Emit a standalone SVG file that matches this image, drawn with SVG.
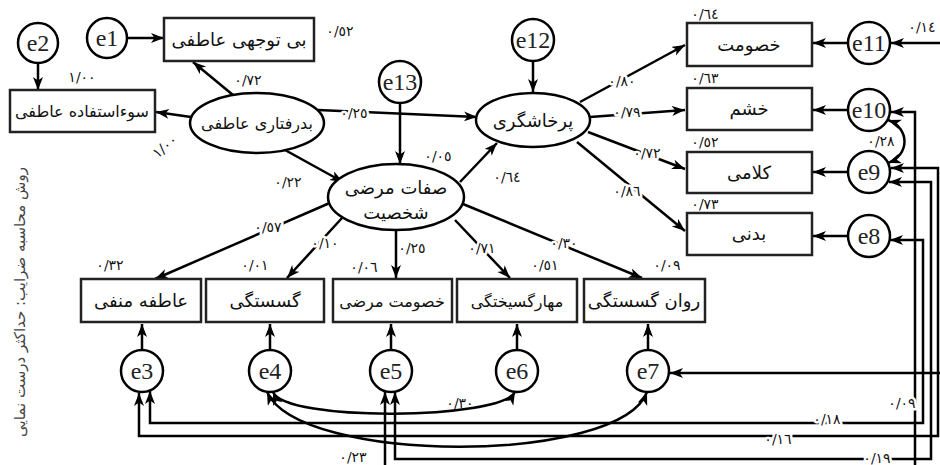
<svg xmlns="http://www.w3.org/2000/svg" width="940" height="465" viewBox="0 0 940 465">
<defs>
<marker id="a" markerUnits="userSpaceOnUse" markerWidth="14" markerHeight="12" refX="13" refY="5" orient="auto-start-reverse">
<path d="M0,0 L13,5 L0,10 L3.5,5 z" fill="#000"/>
</marker>
<style>
.bx{fill:#fff;stroke:#222;stroke-width:2.5}
.el{fill:#fff;stroke:#000;stroke-width:2.5}
.c{fill:#fff;stroke:#000;stroke-width:2.5}
.fa{font-family:"DejaVu Sans",sans-serif;font-size:18px;fill:#111;text-anchor:middle}
.sm{font-size:16px}
.ev{font-family:"Liberation Serif","Times New Roman",serif;font-size:24px;fill:#222;text-anchor:middle}
.n{font-family:"DejaVu Sans",sans-serif;font-size:14px;fill:#111;text-anchor:middle}
.h{stroke:#fff;stroke-width:5;paint-order:stroke;stroke-linejoin:round}
.ln{fill:none;stroke:#000;stroke-width:2.5}
.ar{marker-end:url(#a)}
.ab{marker-start:url(#a);marker-end:url(#a)}
</style>
</defs>

<g id="connectors" class="ln">
<line class="ar" x1="127" y1="38" x2="164" y2="38"/>
<line class="ar" x1="38" y1="63" x2="38" y2="90"/>
<line class="ar" x1="233" y1="95" x2="193" y2="62"/>
<line class="ar" x1="191" y1="117" x2="156" y2="112"/>
<line class="ar" x1="318" y1="110" x2="477" y2="117"/>
<line class="ar" x1="285" y1="150" x2="343" y2="182"/>
<line class="ar" x1="400" y1="103" x2="400" y2="164"/>
<line class="ar" x1="533" y1="61" x2="533" y2="92"/>
<line class="ar" x1="460" y1="182" x2="497" y2="143"/>
<line class="ar" x1="580" y1="102" x2="685" y2="45"/>
<line class="ar" x1="590" y1="117" x2="685" y2="110"/>
<line class="ar" x1="588" y1="132" x2="685" y2="169"/>
<line class="ar" x1="577" y1="142" x2="685" y2="231"/>
<line class="ar" x1="848" y1="43" x2="813" y2="43"/>
<line class="ar" x1="848" y1="110" x2="813" y2="110"/>
<line class="ar" x1="848" y1="172" x2="813" y2="172"/>
<line class="ar" x1="848" y1="236" x2="813" y2="236"/>
<line class="ar" x1="332" y1="202" x2="155" y2="279"/>
<line class="ar" x1="342" y1="218" x2="287" y2="278"/>
<line class="ar" x1="396" y1="230" x2="396" y2="278"/>
<line class="ar" x1="455" y1="220" x2="510" y2="278"/>
<line class="ar" x1="463" y1="204" x2="642" y2="278"/>
<line class="ar" x1="142" y1="350" x2="142" y2="324"/>
<line class="ar" x1="270" y1="350" x2="270" y2="324"/>
<line class="ar" x1="391" y1="350" x2="391" y2="324"/>
<line class="ar" x1="517" y1="350" x2="517" y2="324"/>
<line class="ar" x1="648" y1="350" x2="648" y2="324"/>
<path class="ar" d="M941,43 L891,43"/>
<path class="ar" d="M941,373 L670,373"/>
<path class="ar" d="M915,467 L915,112 L891,112"/>
<path class="ab" d="M139,393 L139,436 L938,436 L938,168 L891,168"/>
<path class="ab" d="M150,391 L150,423 L923,423 L923,240 L890,240"/>
<path class="ab" d="M395,392 L395,459 L931,459 L931,182 L889,182"/>
<path class="ar" d="M385,467 L385,392"/>
<path class="ab" d="M888,120 C910,128 910,155 888,163"/>
<path class="ab" d="M273,392 C285,422 500,420 515,392"/>
<path class="ab" d="M267,392 C300,465 620,465 647,392"/>
</g>

<g id="box-bi-tavajohi"><rect class="bx" x="164" y="18" width="150" height="43"/><text class="fa" x="239" y="46" direction="rtl">بی توجهی عاطفی</text></g>
<g id="box-sooestefade"><rect class="bx" x="10" y="90" width="145" height="42"/><text class="fa sm" x="82" y="117" direction="rtl">سوءاستفاده عاطفی</text></g>
<g id="e1"><circle class="c" cx="107" cy="38" r="20"/><text class="ev" x="107" y="46">e1</text></g>
<g id="e2"><circle class="c" cx="38" cy="43" r="20"/><text class="ev" x="38" y="51">e2</text></g>
<g id="badraftari"><ellipse class="el" cx="257" cy="123" rx="67" ry="30"/><text class="fa sm" x="257" y="129" direction="rtl">بدرفتاری عاطفی</text></g>
<g id="e13"><circle class="c" cx="400" cy="82" r="21"/><text class="ev" x="400" y="90">e13</text></g>
<g id="e12"><circle class="c" cx="533" cy="40" r="21"/><text class="ev" x="533" y="48">e12</text></g>
<g id="sefat"><ellipse class="el" cx="396" cy="197" rx="68" ry="33"/><text class="fa" x="396" y="194" direction="rtl">صفات مرضی</text><text class="fa" x="396" y="219" direction="rtl">شخصیت</text></g>
<g id="parkhashgari"><ellipse class="el" cx="533" cy="120" rx="57" ry="27"/><text class="fa" x="533" y="127" direction="rtl">پرخاشگری</text></g>

<g id="box-khosoomat"><rect class="bx" x="687" y="23" width="125" height="43"/><text class="fa" x="749" y="51" direction="rtl">خصومت</text></g>
<g id="box-khashm"><rect class="bx" x="687" y="88" width="125" height="42"/><text class="fa" x="749" y="115" direction="rtl">خشم</text></g>
<g id="box-kalami"><rect class="bx" x="687" y="152" width="125" height="41"/><text class="fa" x="749" y="179" direction="rtl">کلامی</text></g>
<g id="box-badani"><rect class="bx" x="687" y="213" width="125" height="42"/><text class="fa" x="749" y="240" direction="rtl">بدنی</text></g>
<g id="e11"><circle class="c" cx="869" cy="43" r="21"/><text class="ev" x="869" y="51">e11</text></g>
<g id="e10"><circle class="c" cx="869" cy="110" r="21"/><text class="ev" x="869" y="118">e10</text></g>
<g id="e9"><circle class="c" cx="869" cy="172" r="21"/><text class="ev" x="869" y="180">e9</text></g>
<g id="e8"><circle class="c" cx="869" cy="236" r="21"/><text class="ev" x="869" y="244">e8</text></g>

<g id="box-atefe"><rect class="bx" x="81" y="279" width="120" height="43"/><text class="fa" x="141" y="307" direction="rtl">عاطفه منفی</text></g>
<g id="box-gosastegi"><rect class="bx" x="206" y="279" width="118" height="43"/><text class="fa" x="265" y="307" direction="rtl">گسستگی</text></g>
<g id="box-khosoomat-marazi"><rect class="bx" x="333" y="279" width="119" height="43"/><text class="fa sm" x="392" y="307" direction="rtl">خصومت مرضی</text></g>
<g id="box-mahar"><rect class="bx" x="457" y="279" width="120" height="43"/><text class="fa sm" x="517" y="307" direction="rtl">مهارگسیختگی</text></g>
<g id="box-ravan"><rect class="bx" x="584" y="279" width="121" height="43"/><text class="fa" x="644" y="307" direction="rtl">روان گسستگی</text></g>
<g id="e3"><circle class="c" cx="142" cy="371" r="21"/><text class="ev" x="142" y="379">e3</text></g>
<g id="e4"><circle class="c" cx="270" cy="371" r="21"/><text class="ev" x="270" y="379">e4</text></g>
<g id="e5"><circle class="c" cx="391" cy="371" r="21"/><text class="ev" x="391" y="379">e5</text></g>
<g id="e6"><circle class="c" cx="517" cy="371" r="21"/><text class="ev" x="517" y="379">e6</text></g>
<g id="e7"><circle class="c" cx="648" cy="371" r="21"/><text class="ev" x="648" y="379">e7</text></g>

<g id="labels">
<text class="n" x="82" y="82">١/٠٠</text>
<text class="n" x="248" y="85">٠/٧٢</text>
<text class="n" x="340" y="36">٠/٥٢</text>
<text class="n" transform="translate(168,150) rotate(-40)">١/٠٠</text>
<text class="n h" x="354" y="118">٠/٢٥</text>
<text class="n" x="288" y="187">٠/٢٢</text>
<text class="n" x="438" y="161">٠/٠٥</text>
<text class="n" x="507" y="182">٠/٦٤</text>
<text class="n h" x="622" y="86">٠/٨٠</text>
<text class="n h" x="627" y="117">٠/٧٩</text>
<text class="n h" x="647" y="158">٠/٧٢</text>
<text class="n h" x="627" y="196">٠/٨٦</text>
<text class="n" x="705" y="19">٠/٦٤</text>
<text class="n" x="705" y="83">٠/٦٣</text>
<text class="n" x="705" y="147">٠/٥٢</text>
<text class="n" x="705" y="209">٠/٧٣</text>
<text class="n" x="922" y="32">٠/١٤</text>
<text class="n" x="881" y="146">٠/٢٨</text>
<text class="n h" x="268" y="232">٠/٥٧</text>
<text class="n h" x="325" y="248">٠/١٠</text>
<text class="n" x="412" y="253">٠/٢٥</text>
<text class="n h" x="482" y="253">٠/٧١</text>
<text class="n h" x="564" y="248">٠/٣٠</text>
<text class="n" x="110" y="270">٠/٣٢</text>
<text class="n" x="255" y="270">٠/٠١</text>
<text class="n" x="364" y="272">٠/٠٦</text>
<text class="n" x="545" y="270">٠/٥١</text>
<text class="n" x="667" y="270">٠/٠٩</text>
<text class="n" x="460" y="408">٠/٣٠</text>
<text class="n h" x="827" y="424">٠/١٨</text>
<text class="n h" x="778" y="444">٠/١٦</text>
<text class="n h" x="877" y="463">٠/١٩</text>
<text class="n h" x="902" y="408">٠/٠٩</text>
<text class="n" x="353" y="462">٠/٢٣</text>
<text x="0" y="0" transform="translate(25,302) rotate(-90)" style="font-family:'DejaVu Sans',sans-serif;font-size:15px;fill:#444;text-anchor:middle" direction="rtl">روش محاسبه ضرایب: حداکثر درست نمایی</text>
</g>
</svg>
